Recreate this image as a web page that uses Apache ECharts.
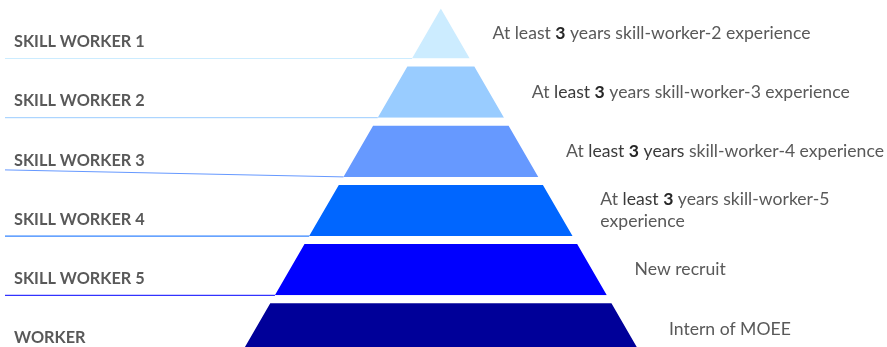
<!DOCTYPE html>
<html>
<head>
<meta charset="utf-8">
<script src="https://cdn.jsdelivr.net/npm/echarts@6/dist/echarts.min.js"></script>
<style>
  html, body { margin: 0; padding: 0; background: #ffffff; }
  #chart { width: 887px; height: 347px; }
</style>
</head>
<body>
<div id="chart"></div>
<script>
// ---- data ----
const levels = ['SKILL WORKER 1', 'SKILL WORKER 2', 'SKILL WORKER 3', 'SKILL WORKER 4', 'SKILL WORKER 5', 'WORKER'];
const tierValues = [1, 2, 3, 4, 5, 6];
const requirements = [
  '{n|At least }{b|3}{n| years skill-worker-2 experience}',
  '{n|At }{d|least }{b|3}{n| years skill-worker-3 experience}',
  '{n|At }{d|least }{b|3}{d| years}{n| skill-worker-4 experience}',
  '{n|At }{d|least }{b|3}{n| years skill-worker-5}\n{n|experience}',
  '{n|New recruit}',
  '{n|Intern of MOEE}'
];
const tierColors = ['#CCECFF', '#99CCFF', '#6699FF', '#0066FF', '#0000FF', '#000099'];

// ---- layout / style ----
const GAP_PX = 8;
const FONT = 'Lato, "Open Sans", sans-serif';
const RFS = 17.6;
const funnelBox = { left: 0, top: 3.3, width: 881.7, height: 355.2 };

const shapeData = levels.map((name, i) => ({
  name: name,
  value: tierValues[i],
  itemStyle: { color: tierColors[i] },
  label: { formatter: requirements[i] },
  labelLine: { length: i === 0 ? 28 : 33 }
}));
const nameData = levels.map((name, i) => ({
  name: name,
  value: tierValues[i],
  labelLine: { lineStyle: { color: tierColors[i] } }
}));

const common = Object.assign({
  type: 'funnel',
  sort: 'ascending',
  gap: 0,
  min: 0,
  max: 6,
  minSize: 3.05,
  maxSize: 414.35,
  funnelAlign: 'center',
  silent: true,
  emphasis: { disabled: true },
  animation: false
}, funnelBox);

const richStyle = {
  n: { color: '#595959', fontFamily: FONT, fontSize: RFS, lineHeight: 22 },
  d: { color: '#3a3a3a', fontFamily: FONT, fontSize: RFS, lineHeight: 22 },
  b: { color: '#262626', fontFamily: FONT, fontSize: RFS, fontWeight: 'bold', lineHeight: 22 }
};

const chart = echarts.init(document.getElementById('chart'), null, { renderer: 'canvas' });
chart.setOption({
  backgroundColor: '#ffffff',
  animation: false,
  series: [
    Object.assign({}, common, {
      name: 'pyramid',
      z: 3,
      data: shapeData,
      itemStyle: { borderColor: '#ffffff', borderWidth: GAP_PX },
      label: {
        show: true,
        position: 'right',
        color: '#595959',
        fontFamily: FONT,
        fontSize: RFS,
        lineHeight: 22,
        rich: richStyle
      },
      labelLine: { show: false, length: 33 }
    }),
    Object.assign({}, common, {
      name: 'names',
      z: 4,
      data: nameData,
      itemStyle: { color: 'rgba(0,0,0,0)', borderWidth: 0 },
      label: {
        show: true,
        position: 'leftTop',
        color: '#595959',
        fontFamily: FONT,
        fontWeight: 'bold',
        fontSize: 16.3
      },
      labelLine: { show: true, length: 10, lineStyle: { width: 1 } },
      labelLayout: function (p) {
        const r = p.rect;
        const yb = r.y + r.height - GAP_PX / 2;
        const xc = r.x + 7;
        const yLeft = p.dataIndex === 2 ? yb - 7 : yb;
        return {
          x: 14,
          y: r.y + r.height / 2 + 9,
          align: 'left',
          verticalAlign: 'middle',
          labelLinePoints: [[xc, yb], [5, yLeft]]
        };
      }
    })
  ]
});
</script>
</body>
</html>
